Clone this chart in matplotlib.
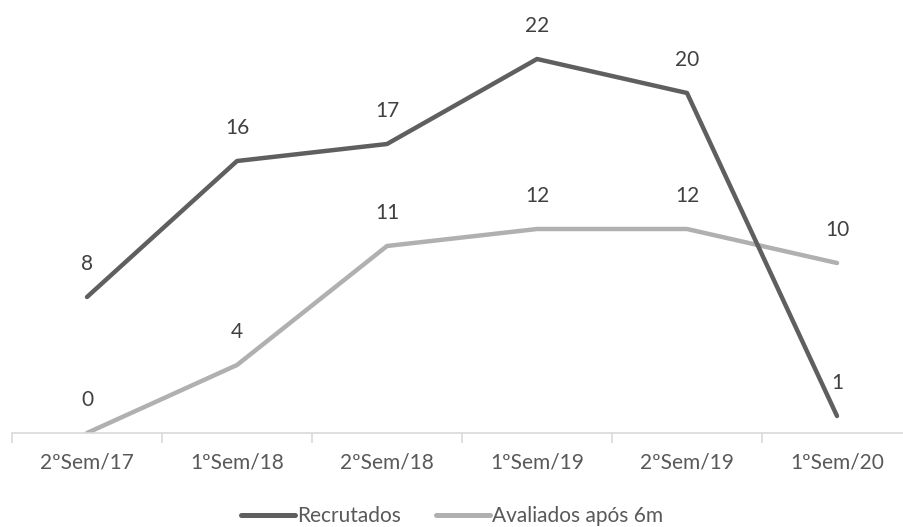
import matplotlib
matplotlib.use("Agg")
import matplotlib.pyplot as plt
from matplotlib.lines import Line2D

categories = ["2ºSem/17", "1ºSem/18", "2ºSem/18", "1ºSem/19", "2ºSem/19", "1ºSem/20"]
recrutados = [8, 16, 17, 22, 20, 1]
avaliados = [0, 4, 11, 12, 12, 10]
series_names = ["Recrutados", "Avaliados após 6m"]

plt.rcParams['font.family'] = ['Lato', 'DejaVu Sans']
txt = '#595959'
c_dark = '#5f5f5f'
c_light = '#b0b0b0'
fs = 15

W, H = 904, 527
fig = plt.figure(figsize=(W/100, H/100), dpi=100)
ax = fig.add_axes([12/W, (H-433)/H, 900/W, 425/H])

x = list(range(len(categories)))
ax.plot(x, recrutados, color=c_dark, lw=3.2, solid_capstyle='round', solid_joinstyle='round', zorder=3)
ax.plot(x, avaliados, color=c_light, lw=3.2, solid_capstyle='round', solid_joinstyle='round', zorder=2)

for xs, ys in ((x, recrutados), (x, avaliados)):
    for xi, yi in zip(xs, ys):
        ax.annotate(str(yi), (xi, yi), xytext=(0, 23.5), textcoords='offset points',
                    ha='center', va='center', fontsize=fs, color='#404040')

ax.set_xlim(-0.5, 5.5)
ax.set_ylim(0, 25)
for s in ['top', 'right', 'left']:
    ax.spines[s].set_visible(False)
ax.spines['bottom'].set_color('#d9d9d9')
ax.spines['bottom'].set_linewidth(1.2)
ax.set_yticks([])
ax.set_xticks(x)
ax.set_xticklabels(categories, fontsize=fs, color=txt)
ax.tick_params(axis='x', length=0, pad=14)
ax.set_xticks([i - 0.5 for i in range(len(categories) + 1)], minor=True)
ax.tick_params(axis='x', which='minor', length=7, color='#d9d9d9', width=1.2, direction='out')
ax.patch.set_alpha(0)

handles = [Line2D([], [], color=c_dark, lw=3.6, solid_capstyle='round'),
           Line2D([], [], color=c_light, lw=3.6, solid_capstyle='round')]
leg = fig.legend(handles, series_names, loc='center', bbox_to_anchor=(0.5, 1 - 516/H),
                 ncol=2, frameon=False, fontsize=fs, handlelength=2.6, handletextpad=0.1,
                 columnspacing=1.7)
for t in leg.get_texts():
    t.set_color(txt)

fig.savefig('out.png', dpi=100)
